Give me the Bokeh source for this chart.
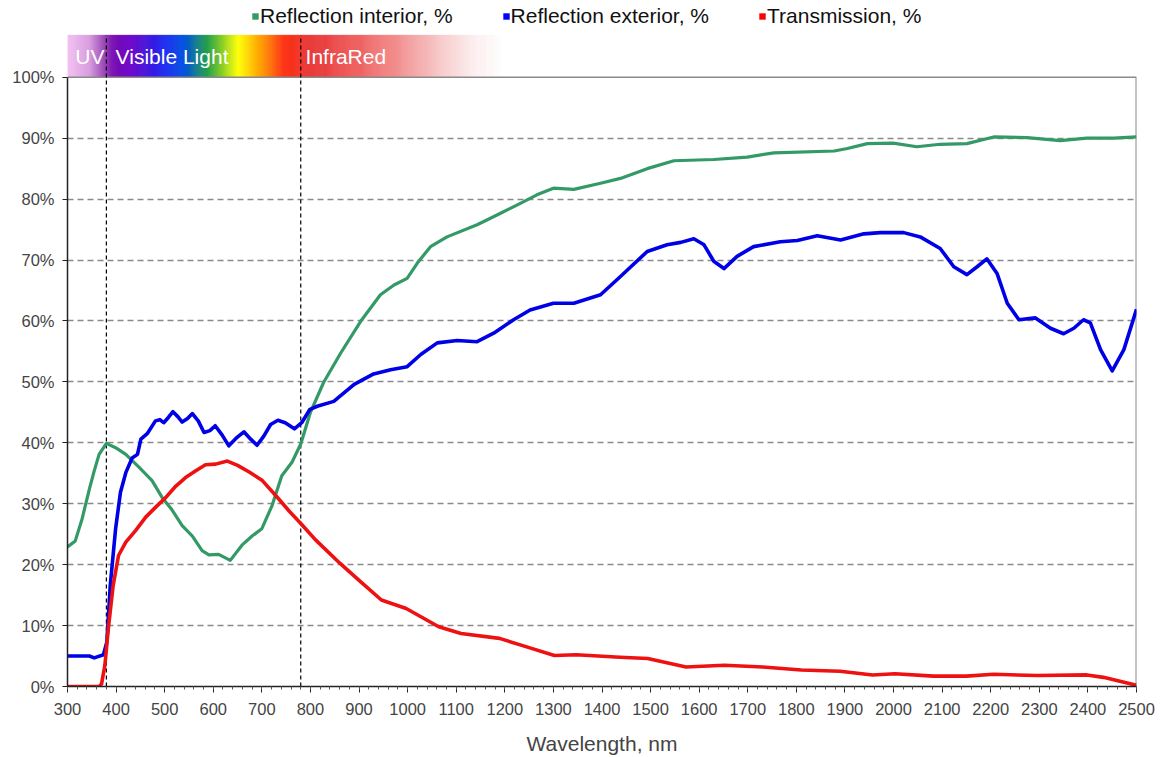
import numpy as np
from bokeh.plotting import figure
from bokeh.models import (Range1d, FixedTicker, SingleIntervalTicker, Legend, LegendItem,
                          CustomJSTickFormatter)
from bokeh.embed import file_html
from bokeh.resources import INLINE
from bokeh.core.properties import value

# ---------------- data ----------------
wl_green = [300, 316, 330, 345, 355, 365, 380, 399, 420, 447, 474, 495, 515, 536, 557, 577, 591,
            611, 635, 659, 680, 700, 721, 741, 762, 780, 800, 827, 862, 903, 944, 972, 999, 1020,
            1047, 1081, 1143, 1184, 1232, 1266, 1300, 1342, 1397, 1438, 1493, 1548, 1630, 1699,
            1754, 1878, 1905, 1946, 1999, 2048, 2096, 2151, 2206, 2275, 2343, 2398, 2453, 2500]
refl_interior = [22.9, 23.9, 27.5, 32.4, 35.4, 38.1, 39.9, 39.2, 38.1, 36.0, 33.8, 31.0, 29.0,
                 26.4, 24.7, 22.3, 21.6, 21.7, 20.7, 23.2, 24.7, 25.9, 29.7, 34.6, 36.8, 39.8,
                 45.0, 49.9, 54.7, 59.9, 64.3, 65.9, 67.0, 69.5, 72.2, 73.8, 75.8, 77.4, 79.3,
                 80.7, 81.8, 81.6, 82.6, 83.4, 85.0, 86.3, 86.5, 86.9, 87.6, 87.9, 88.3, 89.1,
                 89.2, 88.6, 89.0, 89.1, 90.2, 90.1, 89.6, 90.0, 90.0, 90.2]

wl_blue = [300, 345, 355, 374, 381, 388, 399, 409, 420, 433, 444, 451, 464, 481, 490, 498, 508,
           517, 527, 536, 547, 557, 569, 581, 593, 604, 618, 632, 649, 663, 677, 690, 704, 718,
           733, 748, 767, 782, 799, 814, 848, 890, 930, 965, 999,
           1027, 1061, 1102, 1143, 1177, 1218, 1252, 1300, 1342, 1397, 1438, 1493, 1534, 1562,
           1589, 1610, 1630, 1651, 1678, 1712, 1767, 1802, 1843, 1891, 1939, 1973, 2021, 2055,
           2096, 2124, 2151, 2172, 2192, 2213, 2234, 2258, 2292, 2323, 2350, 2371, 2391, 2405,
           2426, 2450, 2474, 2500]
refl_exterior = [5.0, 5.0, 4.7, 5.2, 7.3, 16.6, 25.9, 31.9, 35.1, 37.5, 38.1, 40.6, 41.5, 43.6,
                 43.8, 43.3, 44.2, 45.1, 44.3, 43.4, 44.0, 44.8, 43.6, 41.7, 42.0, 42.8, 41.3,
                 39.5, 40.9, 41.8, 40.6, 39.6, 41.1, 43.0, 43.7, 43.3, 42.3, 43.3,
                 45.5, 46.0, 46.8, 49.6, 51.3, 52.0, 52.5, 54.5, 56.4, 56.8, 56.6, 58.0, 60.2,
                 61.8, 62.9, 62.9, 64.3, 67.3, 71.4, 72.5, 72.9, 73.5, 72.5, 69.8, 68.6, 70.6,
                 72.2, 73.0, 73.2, 74.0, 73.3, 74.3, 74.5, 74.5, 73.8, 71.9, 68.9, 67.6, 68.9,
                 70.2, 67.8, 62.9, 60.2, 60.5, 58.8, 57.9, 58.8, 60.2, 59.7, 55.3, 51.8, 55.3, 61.9]

wl_red = [300, 365, 370, 377, 384, 394, 405, 420, 440, 461, 481, 502, 523, 543, 564, 584, 605,
          629, 650, 674, 701, 729, 756, 782, 810, 861, 903, 946, 997, 1064, 1110, 1189, 1245,
          1302, 1347, 1437, 1494, 1573, 1652, 1731, 1810, 1890, 1957, 2003, 2082, 2150, 2206,
          2296, 2398, 2432, 2500]
transmission = [0.0, 0.0, 0.4, 3.5, 9.5, 16.6, 21.5, 23.7, 25.6, 27.8, 29.4, 31.0, 32.9, 34.3,
                35.4, 36.4, 36.5, 37.0, 36.3, 35.2, 33.8, 31.3, 28.8, 26.6, 24.1, 20.2, 17.2,
                14.2, 12.8, 9.8, 8.7, 7.9, 6.5, 5.1, 5.2, 4.8, 4.6, 3.2, 3.5, 3.2, 2.7, 2.5,
                1.9, 2.1, 1.7, 1.7, 2.0, 1.8, 1.9, 1.5, 0.2]

series_names = ["Reflection interior, %", "Reflection exterior, %", "Transmission, %"]
y_ticks = [0, 10, 20, 30, 40, 50, 60, 70, 80, 90, 100]
grid_ticks = [10, 20, 30, 40, 50, 60, 70, 80, 90]
region_names = ["UV", "Visible Light", "InfraRed"]
region_start = [316, 399, 790]
region_bounds = [380, 780]

# ---------------- styling ----------------
FONT = "Liberation Sans"
GREEN, BLUE, RED = "#339966", "#0000e6", "#ee1111"
X_MIN, X_MAX = 300, 2500
Y_MAX, Y_BAND_TOP, Y_FRAME_TOP = 100, 106.9, 112.6
BORDER = "#8a8a8a"

band_stops = [(300, "#f2c2f2"), (345, "#d99ee0"), (372, "#a050b8"), (392, "#7a10b0"),
              (430, "#6a00c8"), (500, "#1a28f0"), (540, "#0050e0"), (590, "#20a040"),
              (625, "#a0d820"), (652, "#ffff00"), (700, "#ff9a00"), (745, "#ff3010"),
              (800, "#e83434"), (880, "#ee5656"), (980, "#f28e8e"), (1060, "#f7c4c4"),
              (1130, "#fcecec"), (1195, "#ffffff")]


def hex2rgb(h):
    return np.array([int(h[i:i + 2], 16) for i in (1, 3, 5)], dtype=float)


def band_color(w):
    for (w0, c0), (w1, c1) in zip(band_stops[:-1], band_stops[1:]):
        if w0 <= w <= w1:
            t = (w - w0) / (w1 - w0)
            c = hex2rgb(c0) * (1 - t) + hex2rgb(c1) * t
            return "#%02x%02x%02x" % tuple(int(round(v)) for v in c)
    return band_stops[-1][1]


p = figure(width=1161, height=757, x_range=Range1d(X_MIN, X_MAX),
           y_range=Range1d(0, Y_FRAME_TOP),
           output_backend="svg", toolbar_location=None,
           min_border_left=67, min_border_right=25, min_border_top=0, min_border_bottom=69,
           background_fill_color="white", border_fill_color="white")
p.outline_line_color = None

# colour band above the plot area
step = 2
lefts = np.arange(X_MIN, band_stops[-1][0], step)
cols = [band_color(w + step / 2) for w in lefts]
p.quad(left=lefts, right=lefts + step, bottom=Y_MAX, top=Y_BAND_TOP, fill_color=cols,
       line_color=cols, line_width=0.6)
p.text(x=region_start, y=[(Y_MAX + Y_BAND_TOP) / 2] * 3, text=region_names, text_color="white",
       text_font=value(FONT), text_font_size="21px", text_baseline="middle", text_align="left")

# grid
p.xgrid.visible = False
p.ygrid.ticker = FixedTicker(ticks=grid_ticks)
p.ygrid.grid_line_color = BORDER
p.ygrid.grid_line_dash = "6 4"
p.ygrid.grid_line_width = 1.3

# top and right border of the plot area
p.line([X_MIN, X_MAX], [Y_MAX, Y_MAX], line_color=BORDER, line_width=1.5)
p.line([X_MAX, X_MAX], [0, Y_MAX], line_color=BORDER, line_width=2)

# vertical region boundaries
p.segment(x0=region_bounds, y0=[0] * len(region_bounds), x1=region_bounds,
          y1=[Y_BAND_TOP] * len(region_bounds), line_color="black", line_width=1.2,
          line_dash="4 3")

# curves
r_g = p.line(wl_green, refl_interior, line_color=GREEN, line_width=3.2, line_join="round")
r_b = p.line(wl_blue, refl_exterior, line_color=BLUE, line_width=3.6, line_join="round")
r_r = p.line(wl_red, transmission, line_color=RED, line_width=3.6, line_join="round")

# axes
xa = p.xaxis[0]
xa.ticker = SingleIntervalTicker(interval=100, num_minor_ticks=5)
xa.axis_label = "Wavelength, nm"
xa.axis_label_text_font = FONT
xa.axis_label_text_font_style = "normal"
xa.axis_label_text_font_size = "21px"
xa.axis_label_standoff = 14
xa.major_label_text_font = FONT
xa.major_label_text_font_size = "16.5px"
xa.major_label_standoff = 10
xa.major_tick_in = 0
xa.major_tick_out = 6
xa.minor_tick_in = 0
xa.minor_tick_out = 3
xa.axis_line_color = "#222222"
xa.axis_line_width = 1.5
xa.major_tick_line_color = "#222222"
xa.minor_tick_line_color = "#555555"

ya = p.yaxis[0]
ya.bounds = (0, Y_MAX)
ya.ticker = FixedTicker(ticks=y_ticks)
ya.formatter = CustomJSTickFormatter(code="return tick.toFixed(0) + '%';")
ya.major_label_text_font = FONT
ya.major_label_text_font_size = "16.5px"
ya.major_label_standoff = 8
ya.major_tick_in = 0
ya.major_tick_out = 5
ya.minor_tick_line_color = None
ya.axis_line_color = "#222222"
ya.axis_line_width = 1.5
ya.major_tick_line_color = "#222222"

# legend with small square swatches (invisible renderers only feed the legend)
nan = [float("nan")]
sw_g = p.quad(left=nan, right=nan, bottom=nan, top=nan, fill_color=GREEN, line_color=None)
sw_b = p.quad(left=nan, right=nan, bottom=nan, top=nan, fill_color="#0000ff", line_color=None)
sw_r = p.quad(left=nan, right=nan, bottom=nan, top=nan, fill_color="#ff0000", line_color=None)
legend = Legend(items=[LegendItem(label=series_names[0], renderers=[sw_g]),
                       LegendItem(label=series_names[1], renderers=[sw_b]),
                       LegendItem(label=series_names[2], renderers=[sw_r])],
                orientation="horizontal", location=(184, 658))
legend.label_text_font = FONT
legend.label_text_font_size = "21px"
legend.label_text_color = "#111111"
legend.glyph_width = 8
legend.glyph_height = 8
legend.label_standoff = 1
legend.label_height = 20
legend.spacing = 49
legend.padding = 2
legend.margin = 0
legend.border_line_color = None
legend.background_fill_alpha = 0
p.add_layout(legend, "center")

open("out.html", "w").write(file_html(p, INLINE))
